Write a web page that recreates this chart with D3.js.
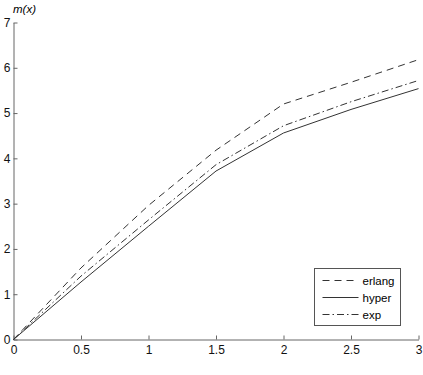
<!DOCTYPE html>
<html>
<head>
<meta charset="utf-8">
<script src="https://cdn.jsdelivr.net/npm/d3@7"></script>
<style>
  body { margin: 0; background: #fff; }
  text { font-family: "Liberation Sans", Arial, sans-serif; }
</style>
</head>
<body>
<div id="chart"></div>
<script>
// data
const xs     = [0, 0.5, 1, 1.5, 2, 2.5, 3];
const erlang = [0, 1.58, 2.96, 4.18, 5.20, 5.68, 6.18];
const hyper  = [0, 1.27, 2.50, 3.72, 4.56, 5.08, 5.54];
const expo   = [0, 1.40, 2.64, 3.86, 4.72, 5.25, 5.72];
const xTicks = [0, 0.5, 1, 1.5, 2, 2.5, 3];
const yTicks = [0, 1, 2, 3, 4, 5, 6, 7];

const series = [
  { name: "erlang", values: erlang, dash: "7,5" },
  { name: "hyper",  values: hyper,  dash: null },
  { name: "exp",    values: expo,   dash: "7,3,1.5,3" }
];

const width = 423, height = 375;

const svg = d3.select("#chart")
  .append("svg")
    .attr("width", width)
    .attr("height", height);

const x = d3.scaleLinear().domain([0, 3]).range([13.5, 418.5]);
const y = d3.scaleLinear().domain([0, 7]).range([339.5, 22.5]);

// axes (ticks point inward)
const xAxis = svg.append("g")
  .attr("transform", `translate(0, ${y(0)})`)
  .call(d3.axisBottom(x).tickValues(xTicks).tickSizeInner(-4).tickSizeOuter(0)
    .tickFormat(d3.format("")));

const yAxis = svg.append("g")
  .attr("transform", `translate(${x(0)}, 0)`)
  .call(d3.axisLeft(y).tickValues(yTicks).tickSizeInner(-4).tickSizeOuter(0)
    .tickFormat(d3.format("d")));

[xAxis, yAxis].forEach(a => {
  a.select(".domain").attr("stroke", "#666");
  a.selectAll(".tick line").attr("stroke", "#666");
  a.selectAll("text").attr("fill", "#111").style("font-size", "12px");
});
xAxis.selectAll("text").attr("y", 6);
yAxis.selectAll("text").attr("x", -3);

svg.append("text")
  .attr("x", 13)
  .attr("y", 13)
  .style("font-size", "11.5px")
  .style("font-style", "italic")
  .text("m(x)");

// lines
const line = d3.line()
  .x((d, i) => x(xs[i]))
  .y(d => y(d));

svg.selectAll(".series")
  .data(series)
  .join("path")
    .attr("class", "series")
    .attr("fill", "none")
    .attr("stroke", "#333")
    .attr("stroke-width", 1)
    .attr("stroke-dasharray", d => d.dash)
    .attr("d", d => line(d.values));

// legend
const legend = svg.append("g").attr("transform", "translate(314.5, 268.5)");

legend.append("rect")
  .attr("width", 86)
  .attr("height", 57)
  .attr("fill", "#fff")
  .attr("stroke", "#555");

const item = legend.selectAll(".item")
  .data(series)
  .join("g")
    .attr("class", "item")
    .attr("transform", (d, i) => `translate(0, ${12 + i * 17})`);

item.append("line")
  .attr("x1", 8).attr("x2", 44)
  .attr("stroke", "#333")
  .attr("stroke-dasharray", d => d.dash);

item.append("text")
  .attr("x", 48)
  .attr("dy", "0.35em")
  .style("font-size", "11.5px")
  .text(d => d.name);
</script>
</body>
</html>
